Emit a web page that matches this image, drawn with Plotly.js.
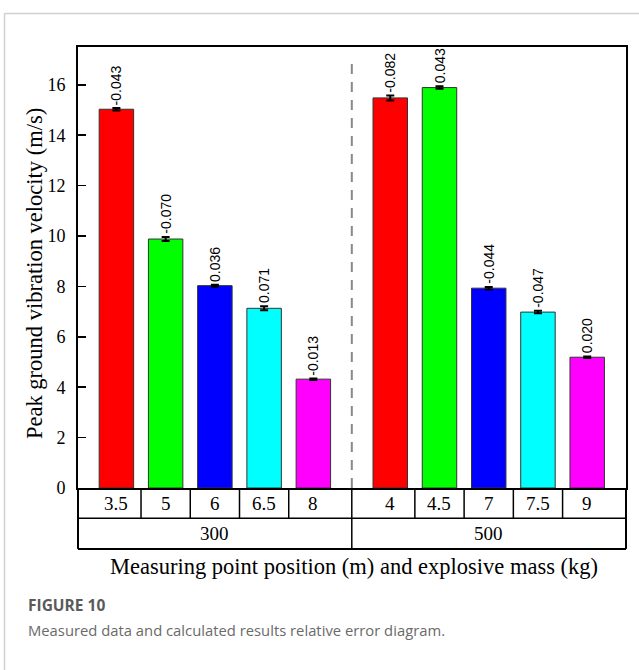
<!DOCTYPE html>
<html>
<head>
<meta charset="utf-8">
<script src="https://cdn.plot.ly/plotly-3.0.1.min.js"></script>
<style>html,body{margin:0;padding:0;background:#fff;}#chart{width:639px;height:670px;}</style>
</head>
<body>
<div id="chart"></div>
<script>
// ---- data ----
const groupLabels = ["300", "500"];
const positionLabels = ["3.5", "5", "6", "6.5", "8", "4", "4.5", "7", "7.5", "9"];
const groupIndex = [0, 0, 0, 0, 0, 1, 1, 1, 1, 1];
const peakVelocity = [15.03, 9.88, 8.03, 7.13, 4.32, 15.48, 15.89, 7.93, 6.98, 5.19];
const velocityError = [0.05, 0.08, 0.04, 0.08, 0.03, 0.10, 0.05, 0.05, 0.05, 0.03];
const relativeError = ["-0.043", "-0.070", "0.036", "0.071", "-0.013", "-0.082", "0.043", "-0.044", "-0.047", "0.020"];

// ---- styles ----
const barColors = ["#ff0000", "#00ff00", "#0000ff", "#00ffff", "#ff00ff",
                   "#ff0000", "#00ff00", "#0000ff", "#00ffff", "#ff00ff"];
const groupGap = 0.562;   // extra spacing between the two groups (in bar slots)
const serif = "Liberation Serif";
const sans = "Liberation Sans";

// category slot positions on a numeric axis
const xs = positionLabels.map((_, i) => i + groupIndex[i] * groupGap);

const W = 639, H = 670;
const M = {l: 78, r: 13, t: 47, b: 182};
const PW = W - M.l - M.r, PH = H - M.t - M.b;
const px = p => (p - M.l) / PW;           // pixel x -> paper
const py = p => (H - M.b - p) / PH;       // pixel y -> paper

const row1 = py(518.3), row2 = py(549);

const shapes = [];
// table: outer lines
shapes.push({type: "line", xref: "paper", yref: "paper", x0: 0, x1: 1, y0: row1, y1: row1, line: {color: "#000", width: 1.5}});
shapes.push({type: "line", xref: "paper", yref: "paper", x0: 0, x1: 1, y0: row2, y1: row2, line: {color: "#000", width: 2}});
shapes.push({type: "line", xref: "paper", yref: "paper", x0: 0, x1: 0, y0: 0, y1: row2, line: {color: "#000", width: 2}});
shapes.push({type: "line", xref: "paper", yref: "paper", x0: 1, x1: 1, y0: 0, y1: row2, line: {color: "#000", width: 2}});
// table: inner dividers
for (let i = 0; i < xs.length - 1; i++) {
  const mid = (xs[i] + xs[i + 1]) / 2;
  if (groupIndex[i] === groupIndex[i + 1]) {
    shapes.push({type: "line", xref: "x", yref: "paper", x0: mid, x1: mid, y0: 0, y1: row1, line: {color: "#000", width: 1.5}});
  } else {
    shapes.push({type: "line", xref: "x", yref: "paper", x0: mid, x1: mid, y0: 0, y1: row2, line: {color: "#000", width: 1.5}});
    shapes.push({type: "line", xref: "x", yref: "paper", x0: mid, x1: mid, y0: 0, y1: py(58), line: {color: "#888", width: 2, dash: "10px,8px"}});
  }
}
// outer figure frame
shapes.push({type: "line", xref: "paper", yref: "paper", x0: px(4.5), x1: px(639), y0: py(13.5), y1: py(13.5), line: {color: "#d0d0d0", width: 1.5}});
shapes.push({type: "line", xref: "paper", yref: "paper", x0: px(4.5), x1: px(4.5), y0: py(13.5), y1: py(670), line: {color: "#d0d0d0", width: 1.5}});

const annotations = [];
// relative error labels above bars
xs.forEach((x, i) => {
  annotations.push({x: x, y: peakVelocity[i] + velocityError[i], xref: "x", yref: "y",
    text: relativeError[i], textangle: -90, showarrow: false, xanchor: "center", yanchor: "bottom",
    yshift: 1, font: {family: sans, size: 14, color: "#000"}});
});
// table row 1: measuring point position
xs.forEach((x, i) => {
  annotations.push({x: x, y: row1 / 2, xref: "x", yref: "paper", text: positionLabels[i],
    showarrow: false, xanchor: "center", yanchor: "middle", font: {family: serif, size: 19, color: "#000"}});
});
// table row 2: explosive mass groups
groupLabels.forEach((g, gi) => {
  const idx = xs.map((_, i) => i).filter(i => groupIndex[i] === gi);
  const first = idx[0], last = idx[idx.length - 1];
  const xl = first === 0 ? -0.78 : (xs[first] + xs[first - 1]) / 2;
  const xr = last === xs.length - 1 ? 10.35 : (xs[last] + xs[last + 1]) / 2;
  annotations.push({x: (xl + xr) / 2, y: (row1 + row2) / 2, xref: "x", yref: "paper", text: g,
    showarrow: false, xanchor: "center", yanchor: "middle", font: {family: serif, size: 19, color: "#000"}});
});
// axis titles
annotations.push({x: px(353.5), y: py(566), xref: "paper", yref: "paper",
  text: "Measuring point position (m) and explosive mass (kg)", showarrow: false,
  xanchor: "center", yanchor: "middle", font: {family: serif, size: 22.5, color: "#000"}});
annotations.push({x: px(34), y: py(274), xref: "paper", yref: "paper",
  text: "Peak ground vibration velocity (m/s)", textangle: -90, showarrow: false,
  xanchor: "center", yanchor: "middle", font: {family: serif, size: 22.5, color: "#000"}});
// caption
annotations.push({x: px(26), y: py(605), xref: "paper", yref: "paper", text: "<b>FIGURE 10</b>",
  showarrow: false, xanchor: "left", yanchor: "middle", font: {family: "Open Sans", size: 15.5, color: "#5a5a5a"}});
annotations.push({x: px(26), y: py(630), xref: "paper", yref: "paper",
  text: "Measured data and calculated results relative error diagram.",
  showarrow: false, xanchor: "left", yanchor: "middle", font: {family: "Open Sans", size: 14.8, color: "#6a6a6a"}});

const trace = {
  type: "bar", x: xs, y: peakVelocity, width: 0.70,
  marker: {color: barColors, line: {color: "#333", width: 1}},
  error_y: {type: "data", array: velocityError, visible: true, color: "#000", thickness: 2, width: 4},
  hoverinfo: "skip"
};

const layout = {
  width: W, height: H,
  margin: M,
  paper_bgcolor: "#fff", plot_bgcolor: "#fff",
  showlegend: false,
  xaxis: {range: [-0.78, 10.35], showticklabels: false, ticks: "", showgrid: false, zeroline: false,
          showline: true, linecolor: "#000", linewidth: 2, mirror: true, fixedrange: true},
  yaxis: {range: [0, 17.5], tickvals: [0, 2, 4, 6, 8, 10, 12, 14, 16], ticks: "inside", ticklen: 8,
          tickwidth: 1.5, tickcolor: "#000", showgrid: false, zeroline: false, showline: true,
          linecolor: "#000", linewidth: 2, mirror: true, ticklabelstandoff: 7,
          tickfont: {family: serif, size: 18, color: "#000"}, fixedrange: true},
  shapes: shapes,
  annotations: annotations
};

Plotly.newPlot("chart", [trace], layout, {displayModeBar: false, staticPlot: true});
</script>
</body>
</html>
